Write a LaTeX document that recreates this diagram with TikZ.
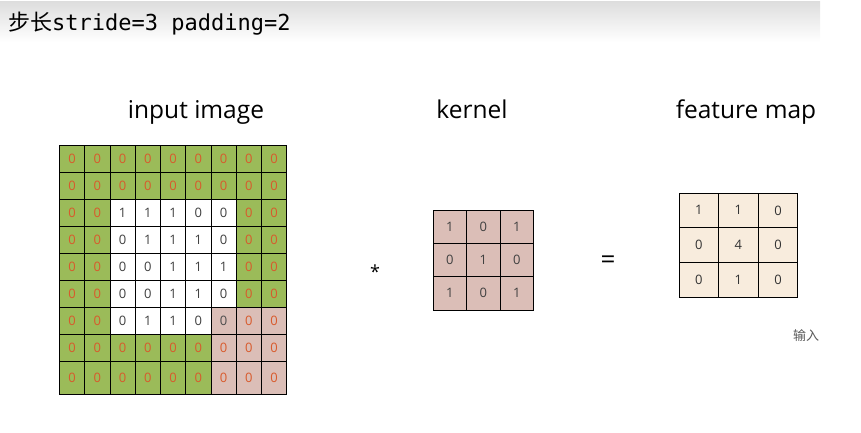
\documentclass[tikz,border=0pt]{standalone}
\usepackage{fontspec}
\setmainfont{Open Sans}
\newfontfamily\monofont{DejaVu Sans Mono}
\newfontfamily\cjk{Noto Sans CJK SC}
\usepackage{tikz}
\usetikzlibrary{positioning}

\definecolor{padgreen}{HTML}{9BBB59}
\definecolor{winpink}{HTML}{DBBEB7}
\definecolor{mapcream}{HTML}{F8ECDD}
\definecolor{padorange}{HTML}{D85A2C}
\definecolor{digitgray}{HTML}{404040}

\begin{document}
\begin{tikzpicture}[x=1pt, y=-1pt]

\tikzstyle{cell} = [rectangle, draw=black, line width=0.8pt, inner sep=0pt, text=digitgray, font=\fontsize{13}{13}\selectfont]
\tikzstyle{cellg} = [cell, fill=padgreen, text=padorange, minimum width=25.25pt]
\tikzstyle{cellw} = [cell, fill=white, minimum width=25.25pt]
\tikzstyle{cellp} = [cell, fill=winpink, text=padorange, minimum width=25.25pt]
\tikzstyle{cellq} = [cell, fill=winpink, text=black!70, minimum width=25.25pt]
\tikzstyle{kcell} = [cell, fill=winpink, minimum width=33.5pt, minimum height=33.3pt]
\tikzstyle{fcell} = [cell, fill=mapcream, text=black!80, minimum width=39.6pt, minimum height=34.7pt]
\tikzstyle{caption} = [anchor=base, inner sep=0pt, font=\fontsize{24.5}{24.5}\selectfont]

\useasboundingbox (0,0) rectangle (861,433);
\shade[top color=black!13, bottom color=white] (0,2) rectangle (820,42);

\node (title) [anchor=base west, inner sep=0pt, font=\fontsize{22}{22}\selectfont] at (8,31) {{\cjk 步长}{\monofont stride=3 padding=2}};

% input image with padding
\foreach \row [count=\r] in {
  {g/0,g/0,g/0,g/0,g/0,g/0,g/0,g/0,g/0},
  {g/0,g/0,g/0,g/0,g/0,g/0,g/0,g/0,g/0},
  {g/0,g/0,w/1,w/1,w/1,w/0,w/0,g/0,g/0},
  {g/0,g/0,w/0,w/1,w/1,w/1,w/0,g/0,g/0},
  {g/0,g/0,w/0,w/0,w/1,w/1,w/1,g/0,g/0},
  {g/0,g/0,w/0,w/0,w/1,w/1,w/0,g/0,g/0},
  {g/0,g/0,w/0,w/1,w/1,w/0,q/0,p/0,p/0},
  {g/0,g/0,g/0,g/0,g/0,g/0,p/0,p/0,p/0},
  {g/0,g/0,g/0,g/0,g/0,g/0,p/0,p/0,p/0}}{
  \pgfmathsetmacro\h{\r==9 ? 33 : 27}
  \pgfmathsetmacro\ytop{145+27*(\r-1)}
  \foreach \k/\v [count=\c] in \row
    \node (in-\r-\c) [cell\k, minimum height=\h pt] at ({59.5+25.25*(\c-0.5)}, {\ytop+\h/2}) {\v};
}

% kernel
\foreach \row [count=\r] in {{1,0,1},{0,1,0},{1,0,1}}
  \foreach \v [count=\c] in \row
    \node (k-\r-\c) [kcell] at ({433+33.5*(\c-0.5)}, {210+33.3*(\r-0.5)}) {\v};

% feature map
\foreach \row [count=\r] in {{1,1,0},{0,4,0},{0,1,0}}
  \foreach \v [count=\c] in \row
    \node (f-\r-\c) [fcell] at ({679+39.6*(\c-0.5)}, {193+34.7*(\r-0.5)}) {\v};

\node (lblin) [caption] at (196,118) {input image};
\node (lblk) [caption] at (472,118) {kernel};
\node (lblf) [caption] at (746,118) {feature map};

\node (conv) [font=\fontsize{18}{18}\selectfont] at (375,272) {*};
\node (eq) [font=\fontsize{26}{26}\selectfont] at (608,262) {=};

\node (note) [anchor=base west, inner sep=0pt, text=black!65, font=\cjk\fontsize{13}{13}\selectfont] at (793,340) {输入};
\end{tikzpicture}
\end{document}
